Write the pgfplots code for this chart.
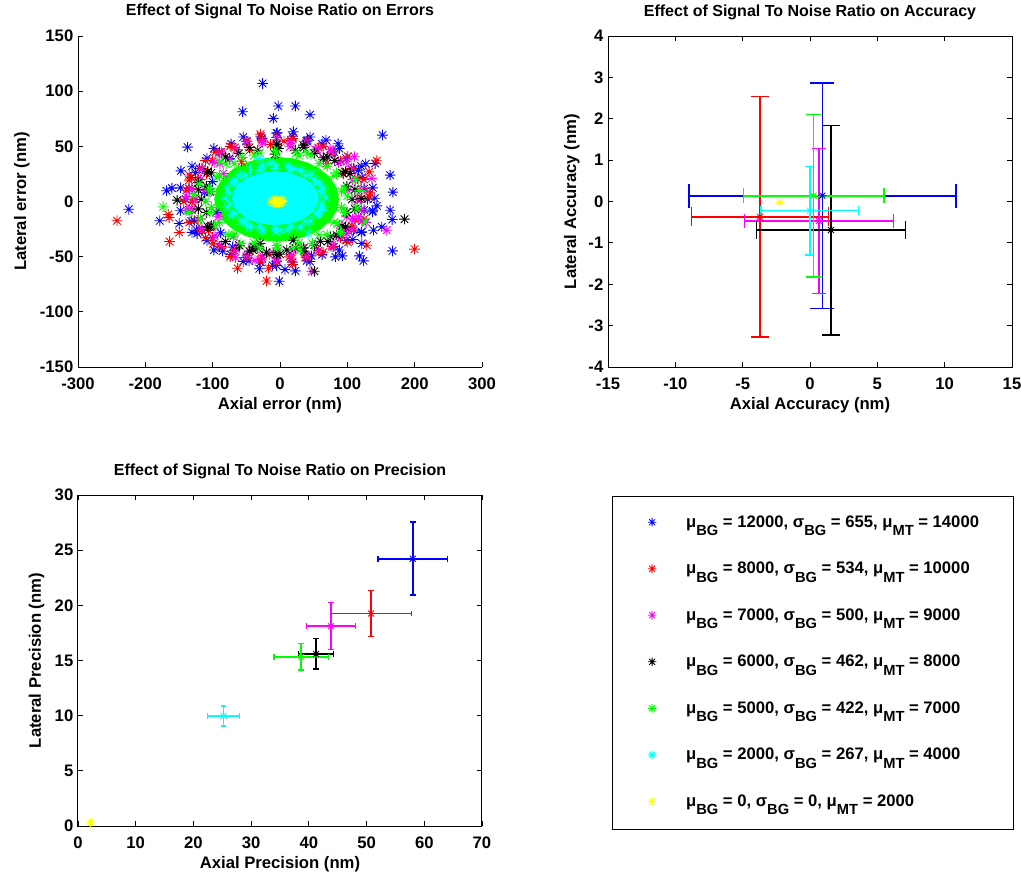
\documentclass[border=0pt]{standalone}
\usepackage{pgfplots}
\pgfplotsset{compat=1.18}
\usepackage{fontspec}
\setmainfont{Liberation Sans}

\definecolor{cB}{rgb}{0,0,1}
\definecolor{cR}{rgb}{1,0,0}
\definecolor{cM}{rgb}{1,0,1}
\definecolor{cK}{rgb}{0,0,0}
\definecolor{cG}{rgb}{0,1,0}
\definecolor{cC}{rgb}{0,1,1}
\definecolor{cY}{rgb}{1,1,0}

\pgfdeclareplotmark{mstar}{%
 \pgfpathmoveto{\pgfqpoint{-\pgfplotmarksize}{0pt}}\pgfpathlineto{\pgfqpoint{\pgfplotmarksize}{0pt}}%
 \pgfpathmoveto{\pgfqpoint{0pt}{-\pgfplotmarksize}}\pgfpathlineto{\pgfqpoint{0pt}{\pgfplotmarksize}}%
 \pgfpathmoveto{\pgfqpoint{-0.7071\pgfplotmarksize}{-0.7071\pgfplotmarksize}}\pgfpathlineto{\pgfqpoint{0.7071\pgfplotmarksize}{0.7071\pgfplotmarksize}}%
 \pgfpathmoveto{\pgfqpoint{-0.7071\pgfplotmarksize}{0.7071\pgfplotmarksize}}\pgfpathlineto{\pgfqpoint{0.7071\pgfplotmarksize}{-0.7071\pgfplotmarksize}}%
 \pgfusepathqstroke}

\newcommand{\sub}[1]{\raisebox{-6.5pt}[0pt][0pt]{\fontsize{11}{12}\selectfont #1}}
\newcommand{\ff}{\bfseries\fontsize{12.5}{14}\selectfont}
\newcommand{\tf}{\bfseries\fontsize{12}{14}\selectfont}

\pgfplotsset{
 myax/.style={scale only axis, width=303pt, height=248.25pt,
  font=\ff, tick label style={font=\ff}, label style={font=\ff},
  title style={font=\tf, at={(0.5,1.03625)}, anchor=base},
  xlabel style={at={(0.5,-0.12689)}, anchor=base},
  xticklabel style={anchor=base, yshift=-16.5pt},
  tick align=inside, major tick length=4pt,
  every tick/.style={black, line width=0.6pt},
  axis line style={line width=0.75pt},
  /pgf/number format/assume math mode=true,
  clip=false, scaled ticks=false},
 every outer x axis line/.append style={-},
 every outer y axis line/.append style={-},
 every inner x axis line/.append style={-},
 every inner y axis line/.append style={-},
 sc/.style={only marks, mark=mstar, mark size=4pt, line width=0.65pt, mark options={line width=0.65pt}},
 pm/.style={only marks, mark=mstar, mark size=3.2pt, line width=0.65pt, mark options={line width=0.65pt}},
 eb/.style n args={2}{pm, #1, error bars/.cd, x dir=both, x explicit, y dir=both, y explicit, error mark=|,
   error bar style={#1, line width=1.2pt}, error mark options={#1, mark size=#2, line width=1.2pt}},
}

\begin{document}
\begin{tikzpicture}
\useasboundingbox (0pt,0pt) rectangle (765.75pt,-654.75pt);

% ---------------- Errors ----------------
\begin{axis}[myax, at={(58.5pt,-275.25pt)}, anchor=south west,
 xmin=-300, xmax=300, ymin=-150, ymax=150,
 xtick={-300,-200,...,300}, ytick={-150,-100,...,150},
 axis x line*=bottom, axis y line*=left,
 title={Effect of Signal To Noise Ratio on Errors},
 xlabel={Axial error (nm)}, ylabel={Lateral error (nm)},
 ylabel style={at={(-0.1287,0.5)}, anchor=base}]
% blue
\addplot[sc, cB] coordinates {
(-25.8,107) (-2.5,86.5) (22.8,86.5) (-55.5,81.3) (44.6,78.6) (-9.9,75.3) (-4,62.3) (19.8,63.2) (152.2,60.2) (-26.8,57.2) (40.7,55.6) (68.4,55.6) (86.3,52.3) (-137.3,49.3) (-74.9,39) (-147.2,27.8) (-125.4,26.3) (163.6,23.9) (116.5,28.4) (127.4,34.2) (141.3,34.5) (167.6,8.5) (-168.6,9.7) (-160.6,12.1) (-224.6,-7) (-178.5,-17.5) (-149.7,-20) (-127.4,-17.5) (-123.9,-26) (-123,-29) (-88.2,-28.4) (140.8,3) (143.8,-4) (137.3,-9.4) (163.6,-7.9) (166.6,-16.3) (138.8,-26) (121.5,-27.5) (151.2,-23) (-85.3,-45) (-70.4,-41.4) (-46.1,-53.8) (-30.7,-61) (-10.9,-57.8) (-1,-72.3) (7.4,-61.7) (22.8,-62.9) (39.7,-53.8) (46.6,-49.3) (82.3,-50.2) (92.7,-49.3) (118,-49.3) (124,-53.8) (167,-44.8) (108,-34.5) (121.5,-38)
(130,2) (121.9,21.8) (98.4,39.3) (62.5,52.2) (18.5,59.1) (-28.5,59.1) (-72.5,52.2) (-108.4,39.3) (-131.9,21.8) (-140,2) (-131.9,-17.8) (-108.4,-35.3) (-72.5,-48.2) (-28.5,-55.1) (18.5,-55.1) (62.5,-48.2) (98.4,-35.3) (121.9,-17.8) (-112,8) (-100,18) (-95,-10)
(137.8,12.4) (120.6,32) (88.2,48) (44.6,58.4) (-5,62) (-54.6,58.4) (-98.2,48) (-130.6,32) (-147.8,12.4) (-147.8,-8.4) (-130.6,-28) (-98.2,-44) (-54.6,-54.4) (-5,-58) (44.6,-54.4) (88.2,-44) (120.6,-28) (137.8,-8.4)
(125,11.7) (109.3,30) (79.9,44.9) (40.1,54.6) (-5,58) (-50.1,54.6) (-89.9,44.9) (-119.3,30) (-135,11.7) (-135,-7.7) (-119.3,-26) (-89.9,-40.9) (-50.1,-50.6) (-5,-54) (40.1,-50.6) (79.9,-40.9) (109.3,-26) (125,-7.7)};
% red
\addplot[sc, cR] coordinates {
(-242,-17.5) (-166,-11.8) (-164.6,-14.5) (-164,-36.3) (-149.7,-28.1) (-96.2,44.8) (-134.9,19.4) (-138.8,10.3) (-130.4,-0.6) (-106,-26) (-99.2,-38.4) (-63,-60.5) (-19.8,-72) (-16.9,-60.5) (-15.9,-48.1) (13.9,-50.2) (39.7,-50.2) (199.8,-43.2) (128.9,-39.6) (133.9,7.9) (143.8,36.9) (132.4,26.9) (115,20.9) (94.2,25.4) (106.6,-22.1) (5.9,54.7) (-13.9,51.7) (-44.6,46.6) (-57,36) (69.4,34.5) (-109,25.4) (-116.5,-26)
(121.1,11.7) (105.8,30) (77.3,44.9) (38.8,54.6) (-5,58) (-48.8,54.6) (-87.3,44.9) (-115.8,30) (-131.1,11.7) (-131.1,-7.7) (-115.8,-26) (-87.3,-40.9) (-48.8,-50.6) (-5,-54) (38.8,-50.6) (77.3,-40.9) (105.8,-26) (121.1,-7.7)
(133,4) (124.7,20) (100.7,41) (64,50) (19,57) (-29,61) (-74,50) (-110.7,37) (-134.7,24) (-143,0) (-134.7,-19) (-110.7,-33) (-74,-50) (-29,-53) (19,-57) (64,-46) (100.7,-37) (124.7,-16)
(119,2) (111.6,20.5) (90,36.7) (57,48.8) (16.6,55.2) (-26.6,55.2) (-67,48.8) (-100,36.7) (-121.6,20.5) (-129,2) (-121.6,-16.5) (-100,-32.7) (-67,-44.8) (-26.6,-51.2) (16.6,-51.2) (57,-44.8) (90,-32.7) (111.6,-16.5)};
% magenta
\addplot[sc, cM] coordinates {
(110.6,40.5) (74.4,47.5) (52.1,47.2) (136.3,20.9) (158.6,-26) (127.9,-19) (116.5,-13.9) (99.2,-29) (-65.9,-50.8) (-37.2,-53.2) (-138.3,-7.9) (-138.8,4.2) (-89.2,34.5) (-84.3,25.4) (-5,51.1) (14.9,49.6) (47.1,-63.2) (19.8,-44.1) (-9.9,-46.6) (99.2,36) (96.7,-26) (99.2,-13.9) (-91.7,-13.9) (-69.4,-32)
(115,2) (107.8,19.8) (86.9,35.4) (55,47) (15.9,53.2) (-25.9,53.2) (-65,47) (-96.9,35.4) (-117.8,19.8) (-125,2) (-117.8,-15.8) (-96.9,-31.4) (-65,-43) (-25.9,-49.2) (15.9,-49.2) (55,-43) (86.9,-31.4) (107.8,-15.8)
(101.4,10.2) (64.4,38) (-5,49) (-74.4,38) (-111.4,10.2) (-98.5,-21.5) (-42,-42.2) (32,-42.2) (88.5,-21.5)
(121.1,11.4) (105.8,29) (77.3,43.4) (38.8,52.8) (-5,56) (-48.8,52.8) (-87.3,43.4) (-115.8,29) (-131.1,11.4) (-131.1,-7.4) (-115.8,-25) (-87.3,-39.4) (-48.8,-48.8) (-5,-52) (38.8,-48.8) (77.3,-39.4) (105.8,-25) (121.1,-7.4)};
% black
\addplot[sc, cK] coordinates {
(184.9,-16) (81.3,37.2) (64.5,39.6) (34.7,51.1) (-7.4,42.9) (-107.6,26.9) (-121,17.2) (-152.7,1.2) (-104,8.8) (-104,-23) (-39.7,-41.1) (0,-47.8) (51.1,-63.2) (84.3,-30.5) (104.1,25.4) (121.5,2.7) (-29.7,-38.1) (19.8,-35.1)
(107,2) (92,26) (51,43.6) (-2,48) (-61,43.6) (-102,26) (-117,2) (-102,-22) (-61,-39.6) (-5,-46) (51,-39.6) (92,-22) (99.3,13.9) (23,46.4) (-33,46.4) (-109.3,13.9) (-109.3,-9.9) (-33,-42.4) (23,-42.4) (99.3,-9.9) (-40,-44) (-20,-46) (10,-44) (35,-42) (60,-36) (-60,-40) (75,-32)
(111.2,10.7) (97.2,27) (70.9,40.3) (35.4,49) (-5,52) (-45.4,49) (-80.9,40.3) (-107.2,27) (-121.2,10.7) (-121.2,-6.7) (-107.2,-23) (-80.9,-36.3) (-45.4,-45) (-5,-48) (35.4,-45) (70.9,-36.3) (97.2,-23) (111.2,-6.7)};
% green
\addplot[fill=cG, draw=cG, line width=0.6pt, forget plot] coordinates {
(87,2) (83.9,11.8) (74.7,21) (60,28.9) (41,34.9) (18.8,38.7) (-5,40) (-28.8,38.7) (-51,34.9) (-70,28.9) (-84.7,21) (-93.9,11.8) (-97,2) (-93.9,-7.8) (-84.7,-17) (-70,-24.9) (-51,-30.9) (-28.8,-34.7) (-5,-36) (18.8,-34.7) (41,-30.9) (60,-24.9) (74.7,-17) (83.9,-7.8)} -- cycle;
\addplot[sc, cG] coordinates {
(100,5) (96,12) (84,26) (70,32) (46,42) (24,44) (-8,46) (-30,44) (-56,40) (-80,34) (-94,22) (-106,12) (-110,0) (-104,-10) (-96,-22) (-76,-30) (-58,-38) (-30,-42) (-4,-42) (20,-42) (48,-38) (70,-30) (86,-20) (96,-10)
(-173.5,-4.8) (126.4,-18.4) (-135,-10) (-128,6) (112,20) (114,-6) (40,44) (-120,16) (-118,-16) (118,10) (-90,36) (90,-28) (30,-44)
(91.5,9.3) (79.9,23) (58,34.2) (28.5,41.5) (-5,44) (-38.5,41.5) (-68,34.2) (-89.9,23) (-101.5,9.3) (-101.5,-5.3) (-89.9,-19) (-68,-30.2) (-38.5,-37.5) (-5,-40) (28.5,-37.5) (58,-30.2) (79.9,-19) (91.5,-5.3)};
% cyan
\addplot[fill=cC, draw=cC, line width=0.6pt, forget plot] coordinates {
(57,3) (54.8,9.2) (48.4,15) (38.2,20) (25,23.8) (9.6,26.2) (-7,27) (-23.6,26.2) (-39,23.8) (-52.2,20) (-62.4,15) (-68.8,9.2) (-71,3) (-68.8,-3.2) (-62.4,-9) (-52.2,-14) (-39,-17.8) (-23.6,-20.2) (-7,-21) (9.6,-20.2) (25,-17.8) (38.2,-14) (48.4,-9) (54.8,-3.2)} -- cycle;
\addplot[sc, cC] coordinates {
(67,4) (63,12) (58,17) (46,25) (31,28) (12,32) (-7,33) (-26,32) (-44,29) (-59,24) (-71,17) (-79,11) (-81,3) (-78,-5) (-71,-12) (-58,-18) (-44,-23) (-26,-26) (-7,-27) (12,-25) (30,-23) (45,-18) (57,-12) (64,-5) (-30,39) (42,-29) (20,30) (-15,35) (50,20) (-50,-20) (0,-26) (-65,20) (60,-8)
(61,7.7) (52.8,16.5) (37.4,23.7) (16.6,28.4) (-7,30) (-30.6,28.4) (-51.4,23.7) (-66.8,16.5) (-75,7.7) (-75,-1.7) (-66.8,-10.5) (-51.4,-17.7) (-30.6,-22.4) (-7,-24) (16.6,-22.4) (37.4,-17.7) (52.8,-10.5) (61,-1.7)};
% yellow
\addplot[sc, cY] coordinates {
(-8,0) (-4,1) (0,-1) (-10,-1) (2,1) (-2,-1.5) (-6,1.5) (4,0) (-12,0.5) (-5,-1.5)};
\end{axis}

% ---------------- Accuracy ----------------
\begin{axis}[myax, at={(456pt,-275.25pt)}, anchor=south west,
 xmin=-15, xmax=15, ymin=-4, ymax=4,
 xtick={-15,-10,...,15}, ytick={-4,-3,...,4},
 title={Effect of Signal To Noise Ratio on Accuracy},
 xlabel={Axial Accuracy (nm)}, ylabel={Lateral Accuracy (nm)},
 ylabel style={at={(-0.0792,0.5)}, anchor=base}]
\addplot[eb={cB}{9pt}] coordinates {(0.92,0.14) +- (9.9,2.73)};
\addplot[eb={cR}{7pt}] coordinates {(-3.72,-0.37) +- (5.08,2.91)};
\addplot[eb={cM}{5.25pt}] coordinates {(0.67,-0.47) +- (5.53,1.75)};
\addplot[eb={cK}{6.5pt}] coordinates {(1.56,-0.69) +- (5.53,2.53)};
\addplot[eb={cG}{5.6pt}] coordinates {(0.27,0.14) +- (5.22,1.96)};
\addplot[eb={cC}{3.4pt}] coordinates {(-0.02,-0.22) +- (3.62,1.07)};
\addplot[pm, cY] coordinates {(-2.26,-0.02)};
\end{axis}

% ---------------- Precision ----------------
\begin{axis}[myax, at={(58.5pt,-619.5pt)}, anchor=south west,
 xmin=0, xmax=70, ymin=0, ymax=30,
 xtick={0,10,...,70}, ytick={0,5,...,30},
 title={Effect of Signal To Noise Ratio on Precision},
 xlabel={Axial Precision (nm)}, ylabel={Lateral Precision (nm)},
 ylabel style={at={(-0.0916,0.5)}, anchor=base},
 legend cell align=left,
 legend style={at={(1.41,0.9889)}, anchor=north west, draw=none, fill=none,
  inner sep=0pt, row sep=0pt, font=\ff,
  nodes={inner sep=0pt, minimum height=34.9pt},
  /tikz/every odd column/.append style={column sep=22.25pt}}]
\addplot[eb={cB}{2.2pt}] coordinates {(58.0,24.22) +- (6.0,3.31)};
\addlegendentry{μ\sub{BG} = 12000, σ\sub{BG} = 655, μ\sub{MT} = 14000}
\addplot[eb={cR}{2.2pt}] coordinates {(50.78,19.26) +- (7.0,2.07)};
\addlegendentry{μ\sub{BG} = 8000, σ\sub{BG} = 534, μ\sub{MT} = 10000}
\addplot[eb={cM}{2.2pt}] coordinates {(43.84,18.11) +- (4.22,2.13)};
\addlegendentry{μ\sub{BG} = 7000, σ\sub{BG} = 500, μ\sub{MT} = 9000}
\addplot[eb={cK}{2.2pt}] coordinates {(41.24,15.6) +- (3.04,1.39)};
\addlegendentry{μ\sub{BG} = 6000, σ\sub{BG} = 462, μ\sub{MT} = 8000}
\addplot[eb={cG}{2.2pt}] coordinates {(38.69,15.33) +- (4.69,1.21)};
\addlegendentry{μ\sub{BG} = 5000, σ\sub{BG} = 422, μ\sub{MT} = 7000}
\addplot[eb={cC}{2.2pt}] coordinates {(25.22,9.98) +- (2.75,0.92)};
\addlegendentry{μ\sub{BG} = 2000, σ\sub{BG} = 267, μ\sub{MT} = 4000}
\addplot[pm, cY] coordinates {(2.14,0.30)};
\addlegendentry{μ\sub{BG} = 0, σ\sub{BG} = 0, μ\sub{MT} = 2000}
\end{axis}

\draw[line width=0.75pt] (459pt,-372pt) rectangle (759.75pt,-621.75pt);
\end{tikzpicture}
\end{document}
